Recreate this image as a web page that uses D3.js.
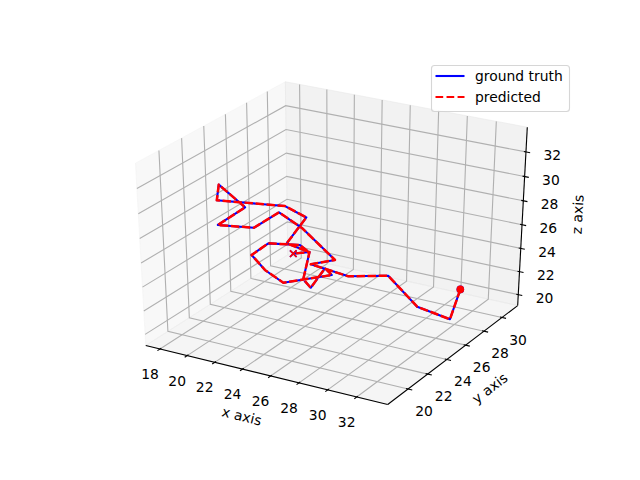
<!DOCTYPE html>
<html>
<head>
<meta charset="utf-8">
<title>trajectory</title>
<script src="https://d3js.org/d3.v7.min.js"></script>
<style>
  body { margin: 0; background: #fff; }
  svg { display: block; }
  text { font-family: "DejaVu Sans", sans-serif; font-size: 13.89px; fill: #000; }
</style>
</head>
<body>
<div id="chart"></div>
<script>
// trajectory (starts at the dot, ends at the x)
const xValues = [33.29, 33.35, 31.35, 29.17, 27.06, 24.81, 26.01, 23.60, 22.05, 21.03, 19.05, 20.14, 18.27, 18.49, 22.24, 23.61, 23.10, 24.42, 23.84, 22.12, 21.47, 22.51, 23.73, 26.15, 25.65, 25.29, 24.72, 24.49, 23.66];
const yValues = [26.49, 25.38, 24.93, 25.10, 24.10, 23.52, 24.24, 24.34, 24.22, 23.16, 22.35, 23.53, 23.53, 23.03, 24.55, 24.75, 23.52, 23.82, 23.80, 23.07, 22.32, 22.22, 22.31, 23.73, 23.75, 22.84, 22.90, 23.84, 23.39];
const zValues = [23.28, 21.42, 22.20, 24.13, 24.09, 24.84, 25.11, 27.09, 28.07, 27.11, 27.28, 28.38, 29.79, 28.82, 28.46, 27.75, 26.14, 25.62, 26.04, 26.14, 25.42, 24.47, 23.69, 24.17, 24.59, 23.38, 23.91, 25.60, 25.50];

const xTicks = [18, 20, 22, 24, 26, 28, 30, 32];
const yTicks = [20, 22, 24, 26, 28, 30];
const zTicks = [20, 22, 24, 26, 28, 30, 32];

const xLim = [17.29, 33.77];
const yLim = [18.255, 31.505];
const zLim = [19.34, 33.68];

const seriesNames = ['ground truth', 'predicted'];
const seriesColors = ['#0000ff', '#ff0000'];

const width = 640;
const height = 480;

const svg = d3
  .select('#chart')
  .append('svg')
  .attr('width', width)
  .attr('height', height);

// data to unit cube
const xScale = d3.scaleLinear().domain(xLim).range([0, 1]);
const yScale = d3.scaleLinear().domain(yLim).range([0, 1]);
const zScale = d3.scaleLinear().domain(zLim).range([0, 1]);

// projected plane to pixels
const px = d3.scaleLinear().domain([-0.095, 0.09]).range([80, 576]);
const py = d3.scaleLinear().domain([-0.095, 0.09]).range([427.2, 57.6]);

// elev 30, azim -60, camera distance 10
const elev = (30 * Math.PI) / 180;
const azim = (-60 * Math.PI) / 180;
const dist = 10;
const w = [Math.cos(azim) * Math.cos(elev), Math.sin(azim) * Math.cos(elev), Math.sin(elev)];
const u = [-Math.sin(azim), Math.cos(azim), 0];
const v = [w[1] * u[2] - w[2] * u[1], w[2] * u[0] - w[0] * u[2], w[0] * u[1] - w[1] * u[0]];

function project(d) {
  const p = [xScale(d[0]) - 0.5, yScale(d[1]) - 0.5, zScale(d[2]) - 0.5];
  const a = d3.sum(p, (c, i) => c * u[i]);
  const b = d3.sum(p, (c, i) => c * v[i]);
  const c = d3.sum(p, (c, i) => c * w[i]);
  return [px(a / (dist - c)), py(b / (dist - c))];
}

const line3d = d3.line().x((d) => project(d)[0]).y((d) => project(d)[1]);

// panes stick out of the limits by 1/48 of the range
function padded(lim) {
  const pad = (lim[1] - lim[0]) / 48;
  return [lim[0] - pad, lim[1] + pad];
}
const [x0, x1] = padded(xLim);
const [y0, y1] = padded(yLim);
const [z0, z1] = padded(zLim);

// Panes
const panes = [
  { fill: 'rgba(242,242,242,0.5)', pts: [[x0, y0, z0], [x0, y1, z0], [x0, y1, z1], [x0, y0, z1]] },
  { fill: 'rgba(230,230,230,0.5)', pts: [[x0, y1, z0], [x1, y1, z0], [x1, y1, z1], [x0, y1, z1]] },
  { fill: 'rgba(236,236,236,0.5)', pts: [[x0, y0, z0], [x1, y0, z0], [x1, y1, z0], [x0, y1, z0]] },
];
svg
  .selectAll('path.pane')
  .data(panes)
  .join('path')
  .attr('class', 'pane')
  .attr('d', (d) => line3d(d.pts) + 'Z')
  .attr('fill', (d) => d.fill)
  .attr('stroke', (d) => d.fill)
  .attr('stroke-width', 1);

// Grid
const gridLines = [
  ...xTicks.map((t) => [[t, y0, z0], [t, y1, z0], [t, y1, z1]]),
  ...yTicks.map((t) => [[x1, t, z0], [x0, t, z0], [x0, t, z1]]),
  ...zTicks.map((t) => [[x0, y0, t], [x0, y1, t], [x1, y1, t]]),
];
svg
  .selectAll('path.grid')
  .data(gridLines)
  .join('path')
  .attr('class', 'grid')
  .attr('d', line3d)
  .attr('fill', 'none')
  .attr('stroke', '#b0b0b0')
  .attr('stroke-width', 1.11);

// Axis lines
const axisEdges = [
  { name: 'x axis', pts: [[x0, y0, z0], [x1, y0, z0]], off: [-25, 41] },
  { name: 'y axis', pts: [[x1, y0, z0], [x1, y1, z0]], off: [37, 33] },
  { name: 'z axis', pts: [[x1, y1, z0], [x1, y1, z1]], off: [55, -2] },
];
svg
  .selectAll('path.axis')
  .data(axisEdges)
  .join('path')
  .attr('class', 'axis')
  .attr('d', (d) => line3d(d.pts))
  .attr('stroke', '#000')
  .attr('stroke-width', 1.11);

// Ticks
const dx = (x1 - x0) / 12;
const dy = (y1 - y0) / 12;
const tickLines = [
  ...xTicks.map((t) => [[t, y0 + 0.1 * dy, z0], [t, y0 - 0.2 * dy, z0]]),
  ...yTicks.map((t) => [[x1 - 0.1 * dx, t, z0], [x1 + 0.2 * dx, t, z0]]),
  ...zTicks.map((t) => [[x1 - 0.1 * dx, y1, t], [x1 + 0.2 * dx, y1, t]]),
];
svg
  .selectAll('path.tick')
  .data(tickLines)
  .join('path')
  .attr('class', 'tick')
  .attr('d', line3d)
  .attr('stroke', '#000')
  .attr('stroke-width', 1.11);

// Tick labels
const tickLabels = [
  ...xTicks.map((t) => ({ t, at: [t, y0, z0], off: [-10, 25] })),
  ...yTicks.map((t) => ({ t, at: [x1, t, z0], off: [16, 22] })),
  ...zTicks.map((t) => ({ t, at: [x1, y1, t], off: [26.3, 3.2] })),
];
svg
  .selectAll('text.tick-label')
  .data(tickLabels)
  .join('text')
  .attr('class', 'tick-label')
  .attr('x', (d) => project(d.at)[0] + d.off[0])
  .attr('y', (d) => project(d.at)[1] + d.off[1])
  .attr('text-anchor', 'middle')
  .attr('dominant-baseline', 'central')
  .text((d) => d.t);

// Axis labels, turned along their edge
svg
  .selectAll('text.axis-label')
  .data(axisEdges)
  .join('text')
  .attr('class', 'axis-label')
  .attr('text-anchor', 'middle')
  .attr('dominant-baseline', 'central')
  .attr('transform', (d) => {
    const a = project(d.pts[0]);
    const b = project(d.pts[1]);
    const angle = (Math.atan2(b[1] - a[1], b[0] - a[0]) * 180) / Math.PI;
    const mx = (a[0] + b[0]) / 2 + d.off[0];
    const my = (a[1] + b[1]) / 2 + d.off[1];
    return `translate(${mx},${my}) rotate(${angle})`;
  })
  .text((d) => d.name);

// Series, both runs share the same values
const points = xValues.map((x, i) => [x, yValues[i], zValues[i]]);
const start = project(points[0]);
const end = project(points[points.length - 1]);

seriesColors.forEach((color, i) => {
  svg
    .append('path')
    .attr('d', line3d(points))
    .attr('fill', 'none')
    .attr('stroke', color)
    .attr('stroke-width', i === 1 ? 2.5 : 2.08)
    .attr('stroke-linejoin', 'round')
    .attr('stroke-dasharray', i === 1 ? '8.4,2.63' : null);
  svg
    .append('circle')
    .attr('cx', start[0])
    .attr('cy', start[1])
    .attr('r', 3.8)
    .attr('fill', color);
  svg
    .append('path')
    .attr('d', d3.symbol().type(d3.symbolTimes).size(30)())
    .attr('transform', `translate(${end[0]},${end[1]})`)
    .attr('fill', 'none')
    .attr('stroke', color)
    .attr('stroke-width', 1.6);
});

// Legend
const legend = svg.append('g');
legend
  .append('rect')
  .attr('x', 431.5)
  .attr('y', 65.5)
  .attr('width', 138)
  .attr('height', 46)
  .attr('rx', 3)
  .attr('fill', 'rgba(255,255,255,0.8)')
  .attr('stroke', 'rgba(204,204,204,0.8)')
  .attr('stroke-width', 1.11);
const legendY = d3.scalePoint().domain(seriesNames).range([76, 97]);
legend
  .selectAll('line')
  .data(seriesNames)
  .join('line')
  .attr('x1', 435.5)
  .attr('x2', 464.5)
  .attr('y1', (d) => legendY(d))
  .attr('y2', (d) => legendY(d))
  .attr('stroke', (d, i) => seriesColors[i])
  .attr('stroke-width', 2.08)
  .attr('stroke-dasharray', (d, i) => (i === 1 ? '7.7,3.33' : null));
legend
  .selectAll('text')
  .data(seriesNames)
  .join('text')
  .attr('x', 475)
  .attr('y', (d) => legendY(d))
  .attr('dominant-baseline', 'central')
  .text((d) => d);
</script>
</body>
</html>
